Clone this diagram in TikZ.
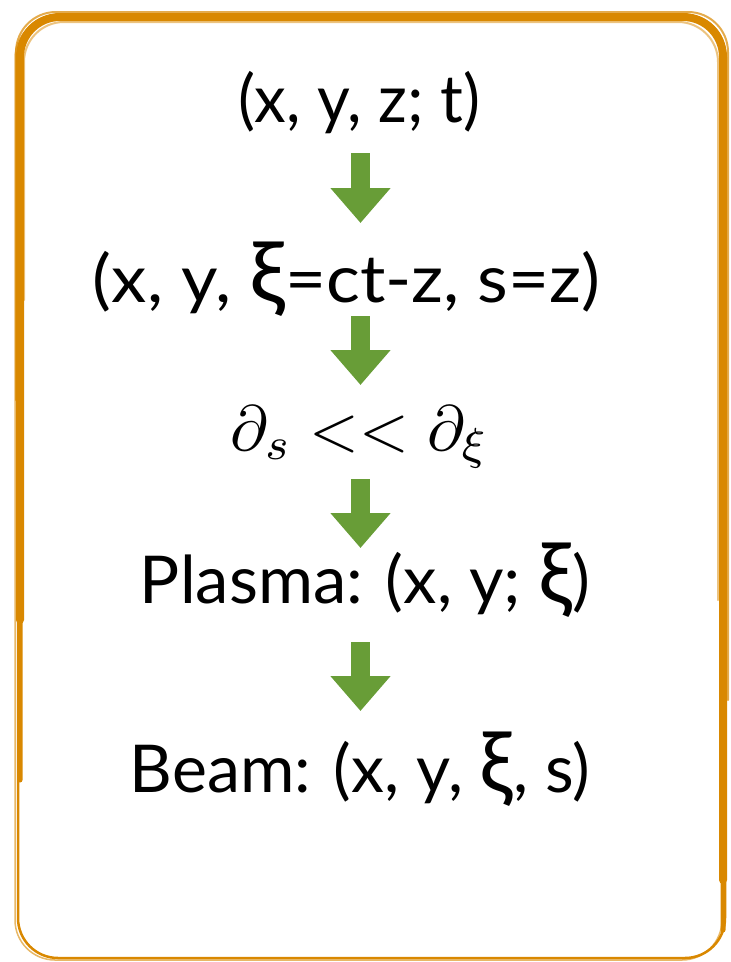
\documentclass[tikz,border=0pt]{standalone}
\usepackage{fontspec}
\usepackage{graphicx}
\setmainfont{Lato}
\usetikzlibrary{arrows.meta}
\definecolor{frameorange}{RGB}{217,136,0}
\definecolor{arrowgreen}{RGB}{104,157,55}
\newcommand\fitw[2]{\resizebox{#1pt}{\height}{#2}}
\newcommand\xig{\scalebox{1.28}{ξ}}
\begin{document}
\begin{tikzpicture}[x=1pt,y=-1pt,
  lbl/.style={anchor=base, inner sep=0pt, font=\fontsize{66}{70}\selectfont},
  mathlbl/.style={anchor=base, inner sep=0pt},
  flow/.style={draw=arrowgreen, line width=19pt, -{Triangle[length=35pt,width=58pt]}},
  frame/.style={draw=frameorange, rounded corners=40pt, line cap=round}]
\useasboundingbox (0,0) rectangle (731,962);
% sketchy frame
\draw[frame, line width=2.5pt] (18,15) rectangle (725,958);
\draw[frame, line width=1.5pt, opacity=0.6] (15,18) rectangle (722,960);
\draw[frame, line width=8pt] (20,620) -- (20,17) -- (723,17) -- (723,880);
\draw[frame, line width=5pt] (20,780) -- (20,17) -- (723,17) -- (723,930);
\draw[frame, line width=2pt, opacity=0.7] (16,400) -- (16,12) -- (728,12) -- (728,700);
\draw[frame, line width=2pt, opacity=0.5] (24,300) -- (24,22) -- (718,22) -- (718,600);
% texts
\node[lbl] (l1) at (359,122) {\fitw{242}{(x, y, z; t)}};
\node[lbl] (l2) at (346.5,302) {\fitw{507}{(x, y, \xig=ct-z, s=z)}};
\node[mathlbl] (l3) at (360,450) {\scalebox{6.4}{$\partial_s << \partial_\xi$}};
\node[lbl] (l4) at (365,603) {\fitw{450}{Plasma: (x, y; \xig)}};
\node[lbl] (l5) at (360,792) {\fitw{460}{Beam: (x, y, \xig, s)}};
% arrows
\coordinate (a1s) at (360.5,153); \coordinate (a1e) at (360.5,223);
\coordinate (a2s) at (360.5,316); \coordinate (a2e) at (360.5,385);
\coordinate (a3s) at (360.5,479); \coordinate (a3e) at (360.5,548);
\coordinate (a4s) at (360.5,642); \coordinate (a4e) at (360.5,711);
\draw[flow] (a1s) -- (a1e);
\draw[flow] (a2s) -- (a2e);
\draw[flow] (a3s) -- (a3e);
\draw[flow] (a4s) -- (a4e);
\end{tikzpicture}
\end{document}
